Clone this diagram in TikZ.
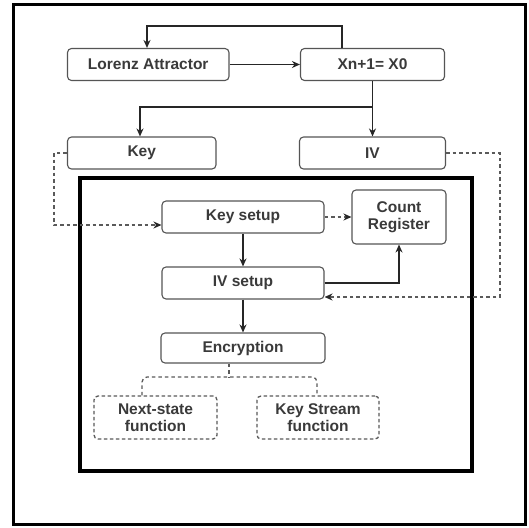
\documentclass[tikz,border=0pt]{standalone}
\usepackage{fontspec}
\setmainfont{Liberation Sans}
\usetikzlibrary{arrows.meta}
\definecolor{txt}{HTML}{3A3A3A}
\definecolor{bd}{HTML}{555555}
\definecolor{dsh}{HTML}{5A5A5A}
\tikzset{
  box/.style={draw=bd, line width=1.1pt, rounded corners=4pt, fill=white, text=txt,
    font=\fontsize{15.5}{17}\selectfont\bfseries, align=center, inner sep=0pt},
  dbox/.style={box, draw=dsh, line width=1.3pt, dash pattern=on 3.5pt off 2.5pt},
  arr/.style={draw=black!85, line width=1.2pt, -{Stealth[length=8pt,width=7pt]}},
  darr/.style={draw=dsh, line width=1.3pt, dash pattern=on 3.5pt off 3pt, -{Stealth[length=8pt,width=7pt,color=black!85]}},
  dline/.style={draw=dsh, line width=1.3pt, dash pattern=on 3.5pt off 3pt},
  frame/.style={draw=black, line width=3pt}
}
\begin{document}
\begin{tikzpicture}[x=1pt,y=-1pt]
\useasboundingbox (0,0) rectangle (529,527);
\fill[white] (0,0) rectangle (529,527);
\draw[frame] (13.5,5) rectangle (525,524);
\draw[frame, line width=3.5pt] (80,178) rectangle (472,471);

\node[box, minimum width=161.5pt, minimum height=32pt] (lor) at (148.25,64.5) {Lorenz Attractor};
\node[box, minimum width=144pt, minimum height=32pt] (xn) at (372.5,64.5) {Xn+1= X0};
\node[box, minimum width=148.5pt, minimum height=32pt] (key) at (141.75,153) {Key};
\node[box, minimum width=146pt, minimum height=32pt] (iv) at (372.5,153) {IV};
\node[box, minimum width=162pt, minimum height=32pt] (ks) at (243,217) {Key setup};
\node[box, minimum width=94pt, minimum height=54pt] (cr) at (399,217) {Count\\Register};
\node[box, minimum width=162pt, minimum height=32pt] (ivs) at (243,283) {IV setup};
\node[box, minimum width=164pt, minimum height=30pt] (enc) at (243,348) {Encryption};
\node[dbox, minimum width=123pt, minimum height=43pt] (ns) at (155.5,417.5) {Next-state\\function};
\node[dbox, minimum width=122pt, minimum height=43pt] (ksf) at (318,417.5) {Key Stream\\function};

\coordinate (lp1) at (342,26);
\coordinate (lp2) at (147,26);
\coordinate (br) at (372.5,107);
\coordinate (kb) at (140,107);
\coordinate (kl) at (54,153);
\coordinate (kl2) at (54,225);
\coordinate (ir) at (500,153);
\coordinate (ir2) at (500,297);
\coordinate (cx) at (399,283);
\coordinate (st) at (229,377);
\coordinate (bl) at (142,377);
\coordinate (brr) at (317,377);

% loop back to Lorenz
\draw[arr] (xn.north -| lp1) -- (lp1) -- (lp2) -- (lor.north -| lp2);
\draw[arr] (lor) -- (xn);
\draw[arr] (xn) -- (iv);
\draw[arr] (br) -| (key.north -| kb);

% dashed key / iv feeds
\draw[darr] (key.west) -- (kl) -- (kl2) -- (ks.west |- kl2);
\draw[darr] (iv.east) -- (ir) -- (ir2) -- (ivs.east |- ir2);

% inner flow
\draw[darr] (ks) -- (cr);
\draw[arr] (ks) -- (ivs);
\draw[arr] (ivs.east |- cx) -- (cx) -- (cr.south);
\draw[arr] (ivs) -- (enc);

% dashed split
\draw[dline] (enc.south -| st) -- (st);
\draw[dline, rounded corners=5pt] (ns.north -| bl) -- (bl) -- (brr) -- (ksf.north -| brr);
\end{tikzpicture}
\end{document}
